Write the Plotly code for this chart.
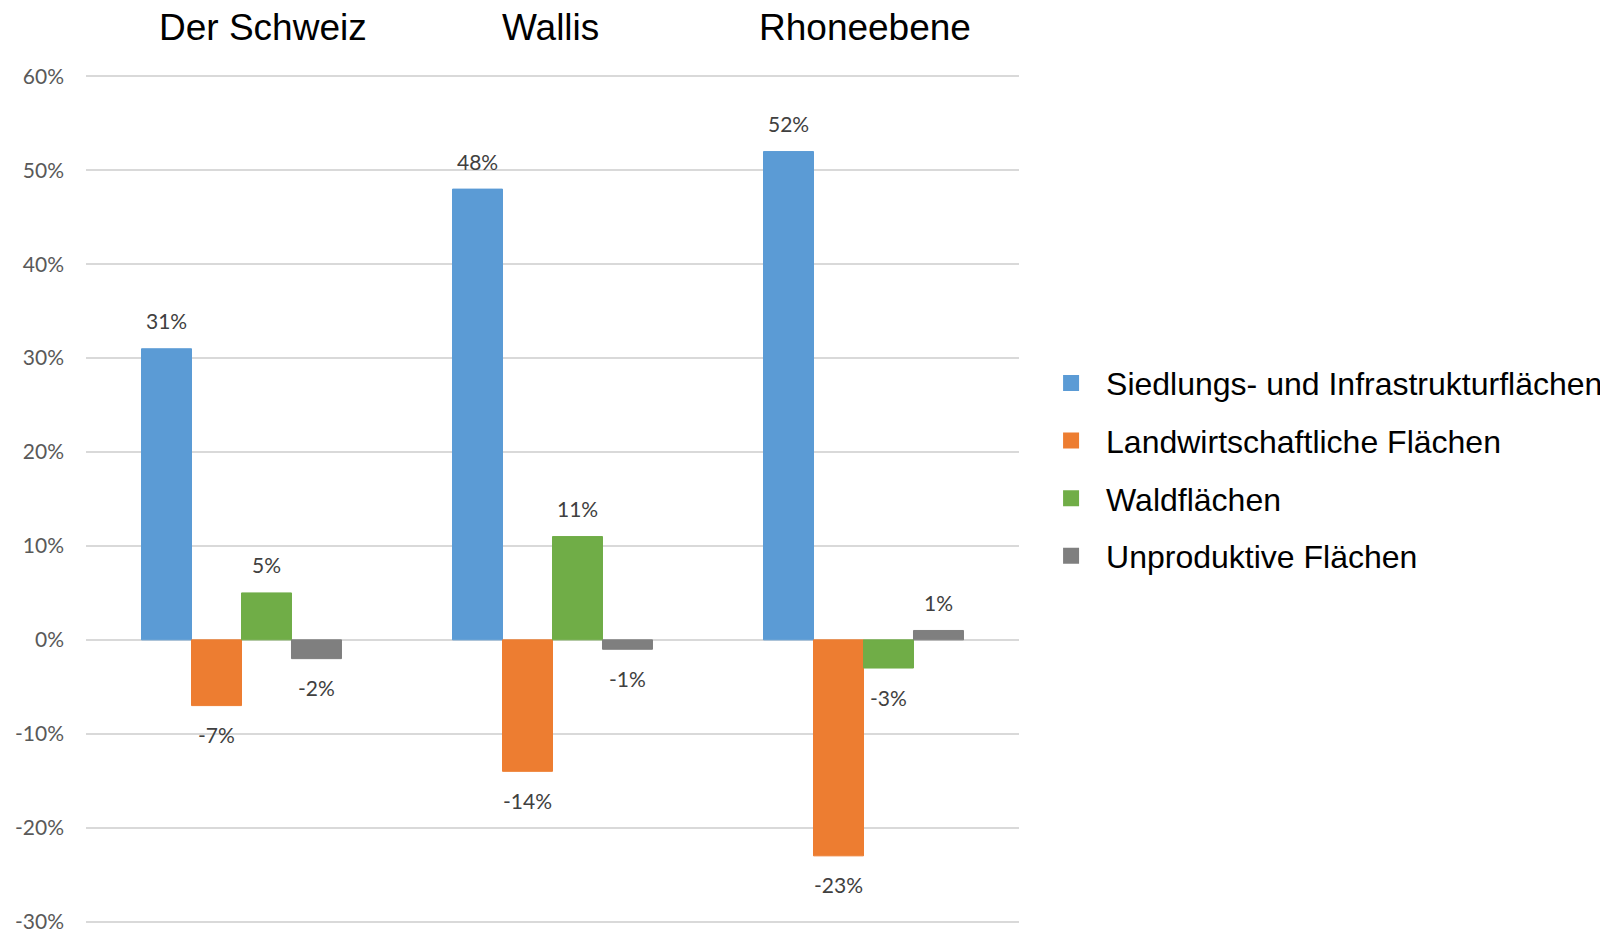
import plotly.graph_objects as go

regions = ["Der Schweiz", "Wallis", "Rhoneebene"]
series_names = ["Siedlungs- und Infrastrukturflächen", "Landwirtschaftliche Flächen",
                "Waldflächen", "Unproduktive Flächen"]
siedlung = [31, 48, 52]
landwirtschaft = [-7, -14, -23]
wald = [5, 11, -3]
unproduktiv = [-2, -1, 1]
series_values = [siedlung, landwirtschaft, wald, unproduktiv]
colors = ["#5B9BD5", "#ED7D31", "#70AD47", "#7F7F7F"]
y_ticks = [-30, -20, -10, 0, 10, 20, 30, 40, 50, 60]
y_tick_labels = [f"{v}%" for v in y_ticks]

# page body has an 8px margin, so the figure is 8px smaller on each side
W, H = 1600, 925
ML, MR, MT, MB = 78, 589, 67, 10
plot_w = W - ML - MR
n_groups = len(regions)
bargap = 0.357
group_px = plot_w / n_groups
bar_px = group_px * (1 - bargap) / len(series_names)

fig = go.Figure()
for i, (name, vals, col) in enumerate(zip(series_names, series_values, colors)):
    fig.add_trace(go.Bar(
        x=regions, y=vals, name=name, marker_color=col,
        marker_line=dict(color=col, width=1), showlegend=False,
        hoverinfo="skip",
    ))
    # legend proxy with a bigger square symbol
    fig.add_trace(go.Scatter(
        x=[None], y=[None], mode="markers", name=name, legendgroup=name,
        marker=dict(symbol="square", size=18, color=col), showlegend=True,
    ))
    offset = (i - (len(series_names) - 1) / 2) * bar_px
    for r, v in zip(regions, vals):
        fig.add_annotation(
            x=r, y=v, xref="x", yref="y", text=f"{v}%", showarrow=False,
            xshift=offset, yshift=28 if v >= 0 else -29, yanchor="middle",
            font=dict(family="Lato", size=21, color="#404040"),
        )

title_pos = [0.1897, 0.498, 0.835]
for r, px in zip(regions, title_pos):
    fig.add_annotation(
        x=px, y=1.0565, xref="paper", yref="paper", text=r, showarrow=False,
        yanchor="middle", xanchor="center",
        font=dict(family="Liberation Sans, Arial", size=37, color="#000000"),
    )

fig.update_layout(
    width=W, height=H,
    margin=dict(l=ML, r=MR, t=MT, b=MB, autoexpand=False),
    paper_bgcolor="white", plot_bgcolor="white",
    barmode="group", bargap=bargap, bargroupgap=0,
    xaxis=dict(showticklabels=False, showgrid=False, zeroline=False,
               showline=False, ticks="", automargin=False),
    yaxis=dict(range=[-30.15, 60.15], tickvals=y_ticks, ticktext=y_tick_labels,
               showgrid=True, gridcolor="#D9D9D9", gridwidth=2,
               zeroline=True, zerolinecolor="#D9D9D9", zerolinewidth=2,
               showline=False, ticks="", ticklabelstandoff=21, automargin=False,
               tickfont=dict(family="Lato", size=21, color="#595959")),
    legend=dict(x=1.0183, xanchor="left", y=0.669, yanchor="top",
                font=dict(family="Liberation Sans, Arial", size=32, color="#000000"),
                traceorder="grouped", tracegroupgap=13, itemclick=False,
                itemwidth=60),
    showlegend=True,
)

fig.write_html("out.html")
